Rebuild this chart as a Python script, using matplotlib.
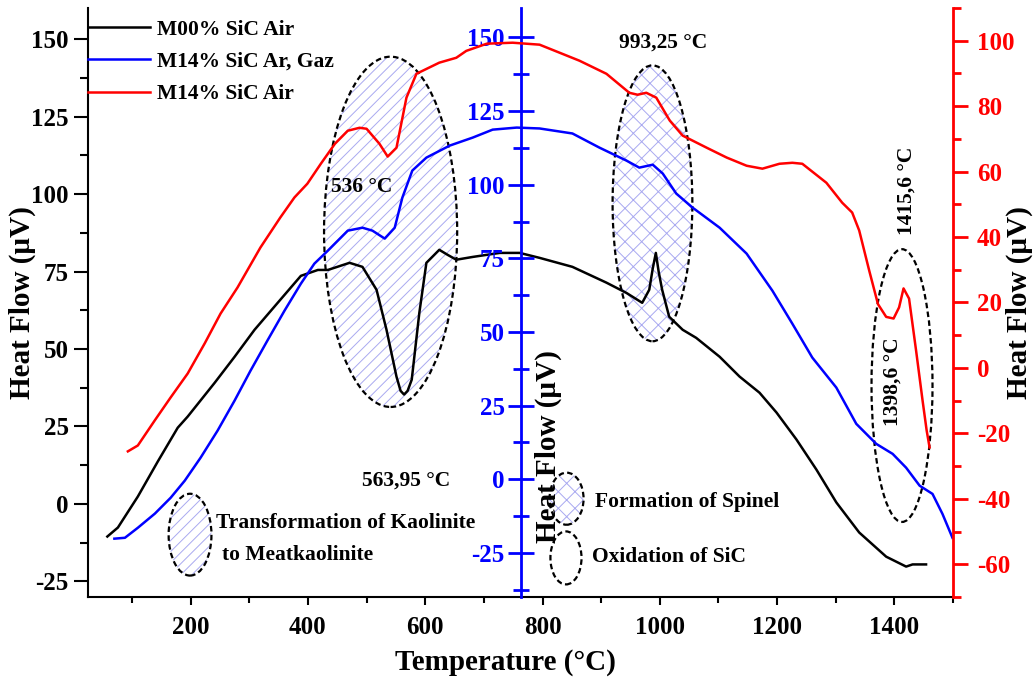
import matplotlib
matplotlib.use('Agg')
import matplotlib.pyplot as plt
from matplotlib.patches import Ellipse
from matplotlib.ticker import MultipleLocator

plt.rcParams['font.family'] = ['Liberation Serif', 'DejaVu Serif']
plt.rcParams['font.weight'] = 'bold'
plt.rcParams['axes.unicode_minus'] = False
plt.rcParams['hatch.linewidth'] = 0.7

# M00% SiC Air -> left (black) axis
t_m00 = [58, 76, 110, 144, 178, 195, 241, 275, 309, 353, 388, 417, 434, 471, 493,
         517, 534, 551, 558, 563.95, 570, 577, 590, 602, 624, 638, 653, 681, 727,
         761, 795, 851, 909, 943, 970, 982, 988, 993.25, 998, 1004, 1016, 1039,
         1062, 1102, 1136, 1170, 1199, 1233, 1267, 1301, 1340, 1386, 1420, 1431, 1454]
hf_m00 = [-10.5, -7.6, 2.4, 13.7, 24.6, 28.2, 39.1, 47.5, 56.2, 65.9, 73.6, 75.5, 75.5,
          77.8, 76.5, 69.1, 56.2, 41.1, 36.5, 35.3, 36.5, 40.1, 61.7, 77.8, 82.0, 80.4,
          78.8, 79.7, 81.0, 81.0, 79.4, 76.5, 71.4, 68.1, 64.9, 69.1, 76.0, 81.0, 75.0,
          69.1, 60.4, 56.2, 53.6, 47.5, 41.1, 35.9, 29.5, 20.8, 11.1, 0.5, -9.2, -17.0,
          -20.2, -19.5, -19.5]

# M14% SiC Ar, Gaz -> middle (blue) axis
t_m14ar = [70, 88, 110, 139, 166, 190, 217, 246, 275, 302, 331, 360, 388, 411, 434,
           468, 493, 510, 531, 548, 561, 578, 602, 642, 681, 715, 756, 795, 851, 897,
           943, 965, 988, 1005, 1028, 1056, 1102, 1148, 1192, 1226, 1260, 1301, 1335,
           1369, 1397, 1420, 1443, 1465, 1482, 1499]
hf_m14ar = [-20.2, -19.9, -16.5, -11.7, -6.3, -0.5, 7.3, 16.5, 26.7, 36.8, 47.1, 57.2,
            66.4, 73.2, 77.6, 84.4, 85.4, 84.4, 81.7, 85.4, 95.6, 104.8, 109.2, 113.3,
            116.0, 118.7, 119.4, 119.1, 117.4, 112.6, 108.2, 105.8, 106.8, 103.8, 97.0,
            92.2, 85.4, 76.6, 64.0, 52.8, 41.3, 31.1, 18.8, 12.0, 8.6, 3.9, -2.2, -5.0,
            -11.8, -19.9]

# M14% SiC Air -> right (red) axis
t_m14air = [93, 110, 139, 166, 195, 224, 251, 280, 319, 353, 377, 399, 422, 446, 468,
            488, 500, 522, 536, 551, 568, 585, 624, 653, 670, 705, 749, 795, 863, 909,
            948, 962, 977, 994, 1017, 1039, 1080, 1114, 1148, 1175, 1204, 1226, 1243,
            1284, 1311, 1328, 1340, 1357, 1372, 1386, 1398.6, 1408, 1415.6, 1425, 1437,
            1448, 1455, 1460]
hf_m14air = [-25.5, -23.7, -16.0, -9.0, -1.7, 7.5, 16.6, 24.6, 36.8, 46.0, 52.1, 56.3,
             62.4, 68.5, 72.5, 73.4, 73.1, 68.5, 64.6, 67.3, 82.6, 89.9, 93.3, 94.8, 96.9,
             99.1, 99.4, 98.8, 93.9, 89.9, 84.1, 83.5, 84.1, 82.6, 75.6, 71.0, 67.3, 64.3,
             61.8, 60.9, 62.4, 62.7, 62.4, 56.6, 50.5, 47.5, 42.0, 29.8, 19.5, 15.6, 15.1,
             18.5, 24.3, 21.2, 5.3, -9.9, -19.1, -24.3]

labels = ['M00% SiC Air', 'M14% SiC Ar, Gaz', 'M14% SiC Air']

BLUE = '#0000ff'
RED = '#ff0000'
HATCH = '#a9a9f0'
LW = 1.8
TICK_FS = 18
LABEL_FS = 21

fig = plt.figure(figsize=(10.34, 6.8), dpi=100)
ax = fig.add_axes([0.0851, 0.1221, 0.8366, 0.8661])
ax2 = ax.twinx()
ax3 = ax.twinx()

l1, = ax.plot(t_m00, hf_m00, color='black', lw=LW, zorder=3)
l2, = ax2.plot(t_m14ar, hf_m14ar, color=BLUE, lw=LW)
l3, = ax3.plot(t_m14air, hf_m14air, color=RED, lw=LW)

ax.set_xlim(25, 1500)
ax.set_ylim(-30, 160)
ax2.set_ylim(-40, 160)
ax3.set_ylim(-70, 110)

# left axis
for s in ['top', 'right']:
    ax.spines[s].set_visible(False)
for s in ['left', 'bottom']:
    ax.spines[s].set_linewidth(1.5)
ax.xaxis.set_major_locator(MultipleLocator(200))
ax.xaxis.set_minor_locator(MultipleLocator(100))
ax.yaxis.set_major_locator(MultipleLocator(25))
ax.yaxis.set_minor_locator(MultipleLocator(12.5))
ax.tick_params(axis='y', which='major', direction='out', length=10, width=1.5,
               labelsize=TICK_FS, pad=4, right=False)
ax.tick_params(axis='y', which='minor', direction='out', length=6, width=1.5, right=False)
ax.tick_params(axis='x', which='major', direction='out', length=6, width=1.5,
               labelsize=TICK_FS, pad=8, top=False)
ax.tick_params(axis='x', which='minor', direction='out', length=4, width=1.5, top=False)

# middle axis
for s in ['top', 'right', 'bottom']:
    ax2.spines[s].set_visible(False)
ax2.spines['left'].set_visible(True)
ax2.spines['left'].set_position(('axes', 0.5))
ax2.spines['left'].set_color(BLUE)
ax2.spines['left'].set_linewidth(2)
ax2.yaxis.tick_left()
ax2.yaxis.set_major_locator(MultipleLocator(25))
ax2.yaxis.set_minor_locator(MultipleLocator(12.5))
ax2.tick_params(axis='y', which='major', direction='inout', length=19, width=2,
                colors=BLUE, labelsize=TICK_FS, pad=2)
ax2.tick_params(axis='y', which='minor', direction='inout', length=11, width=2, colors=BLUE)

# right axis
for s in ['top', 'left', 'bottom']:
    ax3.spines[s].set_visible(False)
ax3.spines['right'].set_color(RED)
ax3.spines['right'].set_linewidth(2)
ax3.yaxis.set_major_locator(MultipleLocator(20))
ax3.yaxis.set_minor_locator(MultipleLocator(10))
ax3.tick_params(axis='y', which='major', direction='out', length=11, width=2,
                colors=RED, labelsize=TICK_FS, pad=6)
ax3.tick_params(axis='y', which='minor', direction='out', length=6, width=2, colors=RED)

ax.set_xlabel('Temperature (°C)', fontsize=LABEL_FS, fontweight='bold', va='center')
ax.xaxis.set_label_coords(0.483, -0.111)
ax.set_ylabel('Heat Flow (μV)', fontsize=LABEL_FS, fontweight='bold', va='center')
ax.yaxis.set_label_coords(-0.076, 0.5)
ax3.set_ylabel('Heat Flow (μV)', fontsize=LABEL_FS, fontweight='bold', va='center')
ax3.yaxis.set_label_coords(1.077, 0.5)
ax.text(0.532, 0.255, 'Heat Flow (μV)', transform=ax.transAxes, rotation=90,
        ha='center', va='center', fontsize=LABEL_FS, fontweight='bold')

# thermal event regions: (centre T, centre HF, width, height, hatch)
regions = [
    (541, 87.8, 227, 113, '///'),
    (987.5, 97.0, 136, 89, 'xx'),
    (1413, 38.2, 104, 88, None),
    (199, -9.9, 73, 26.4, '///'),
    (841, 1.7, 58, 16.8, 'xx'),
    (840, -17.4, 53, 17.1, None),
]
for cx, cy, w, h, hatch in regions:
    if hatch:
        ax.add_patch(Ellipse((cx, cy), w, h, facecolor='none', edgecolor=HATCH,
                             hatch=hatch, lw=0, zorder=1))
    ax.add_patch(Ellipse((cx, cy), w, h, fill=False, edgecolor='black', lw=1.6,
                         ls=(0, (2.5, 1.5)), zorder=2))

ann = dict(fontsize=15.5, fontweight='bold', color='black')
ax.text(492, 102.3, '536 °C', ha='center', va='center', **ann)
ax.text(568, 7.5, '563,95 °C', ha='center', va='center', **ann)
ax.text(1006, 148.7, '993,25 °C', ha='center', va='center', **ann)
ax.text(1420, 101, '1415,6 °C', ha='center', va='center', rotation=90, **ann)
ax.text(1397, 39.5, '1398,6 °C', ha='center', va='center', rotation=90, **ann)
ax.text(244, -6, 'Transformation of Kaolinite', ha='left', va='center', **ann)
ax.text(253, -16.3, 'to Meatkaolinite', ha='left', va='center', **ann)
ax.text(889, 0.8, 'Formation of Spinel', ha='left', va='center', **ann)
ax.text(884, -17, 'Oxidation of SiC', ha='left', va='center', **ann)

ax3.legend([l1, l2, l3], labels, loc='upper left', bbox_to_anchor=(0, 0.98),
           frameon=False, borderpad=0, borderaxespad=0, handlelength=2.9,
           handletextpad=0.3, labelspacing=0.56,
           prop=dict(weight='bold', size=15.5))

fig.savefig('out.png', dpi=100)
